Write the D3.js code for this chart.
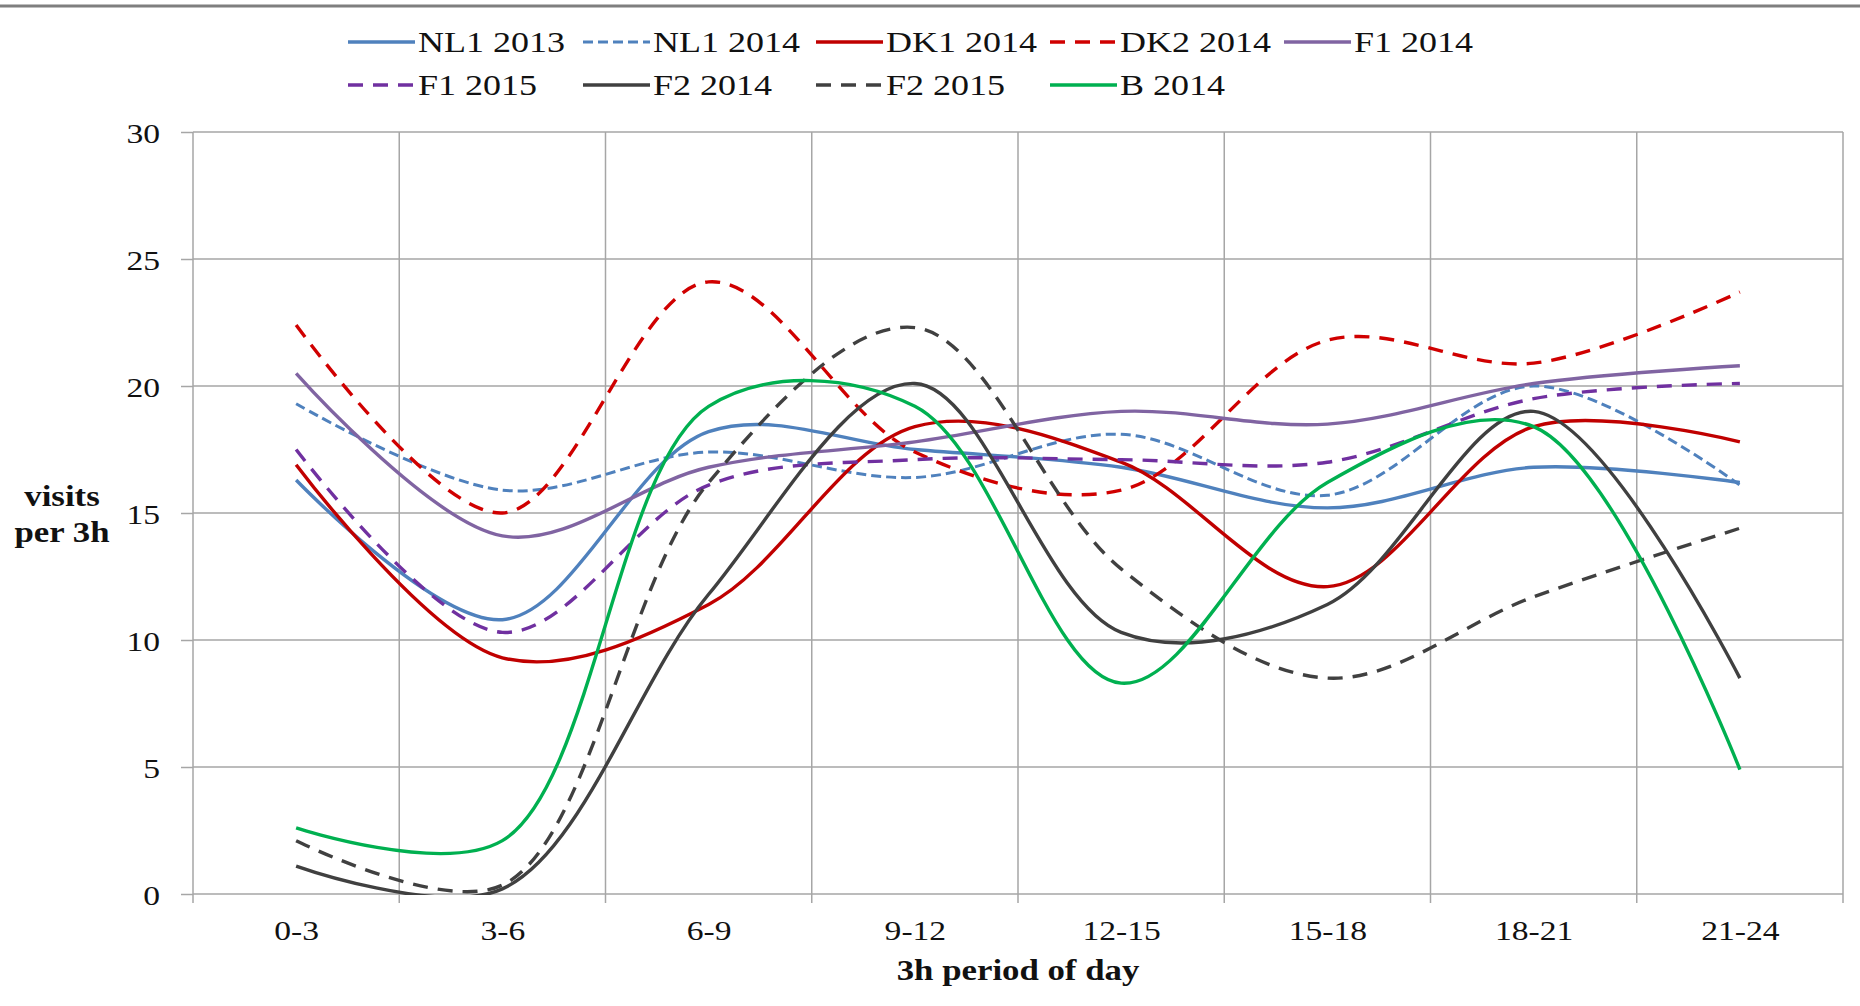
<!DOCTYPE html>
<html>
<head>
<meta charset="utf-8">
<script src="https://cdn.jsdelivr.net/npm/d3@7"></script>
<style>
  body { margin: 0; background: #fff; }
  svg { display: block; font-family: "Liberation Serif", "Times New Roman", serif; }
</style>
</head>
<body>
<div id="chart"></div>
<script>
// data
var periods = ["0-3", "3-6", "6-9", "9-12", "12-15", "15-18", "18-21", "21-24"];
var yTicks = [0, 5, 10, 15, 20, 25, 30];

var seriesNames = ["NL1 2013", "NL1 2014", "DK1 2014", "DK2 2014", "F1 2014",
                   "F1 2015", "F2 2014", "F2 2015", "B 2014"];

var nl1_2013 = [16.3, 10.8, 18.2, 17.5, 16.8, 15.2, 16.8, 16.2];
var nl1_2014 = [19.3, 15.9, 17.4, 16.4, 18.1, 15.7, 20.0, 16.1];
var dk1_2014 = [16.9, 9.3, 11.4, 18.4, 17.0, 12.1, 18.4, 17.8];
var dk2_2014 = [22.4, 15.0, 24.1, 17.4, 15.9, 21.8, 20.9, 23.7];
var f1_2014  = [20.5, 14.1, 16.8, 17.8, 19.0, 18.5, 20.1, 20.8];
var f1_2015  = [17.5, 10.3, 16.1, 17.1, 17.1, 17.0, 19.5, 20.1];
var f2_2014  = [1.1, 0.2, 11.8, 20.1, 10.3, 11.4, 19.0, 8.5];
var f2_2015  = [2.1, 0.35, 16.2, 22.3, 12.8, 8.5, 11.7, 14.4];
var b_2014   = [2.6, 2.1, 19.2, 19.2, 8.3, 16.2, 18.4, 4.9];

var seriesValues = [nl1_2013, nl1_2014, dk1_2014, dk2_2014, f1_2014,
                    f1_2015, f2_2014, f2_2015, b_2014];

var colors = ["#4f81bd", "#4f81bd", "#c00000", "#d00000", "#8064a2",
              "#7030a0", "#404040", "#404040", "#00b050"];
var dashes = [null, "10,5", null, "15,10", null, "15,10", null, "15,10", null];

var W = 1860, H = 1006;
var margin = {top: 132, right: 17, bottom: 112, left: 193};
var SX = 1.2; // the original picture is stretched horizontally

var svg = d3.select("#chart").append("svg")
    .attr("width", W)
    .attr("height", H);

svg.append("rect").attr("width", W).attr("height", H).attr("fill", "#fff");

// top frame line
svg.append("line")
    .attr("x1", 0).attr("x2", W)
    .attr("y1", 6).attr("y2", 6)
    .attr("stroke", "#7f7f7f")
    .attr("stroke-width", 3);

var x = d3.scalePoint()
    .domain(periods)
    .range([margin.left, W - margin.right])
    .padding(0.5);
var step = x.step();

var y = d3.scaleLinear()
    .domain([0, 30])
    .range([H - margin.bottom, margin.top]);

function stretchedText(g, tx, ty, txt, anchor, size, weight) {
    return g.append("text")
        .attr("transform", "translate(" + tx + "," + ty + ") scale(" + SX + ",1)")
        .attr("text-anchor", anchor)
        .attr("font-size", size)
        .attr("font-weight", weight || "normal")
        .attr("fill", "#111")
        .text(txt);
}

// horizontal grid
svg.append("g").selectAll("line")
    .data(yTicks)
    .enter().append("line")
        .attr("x1", margin.left).attr("x2", W - margin.right)
        .attr("y1", d => y(d)).attr("y2", d => y(d))
        .attr("stroke", "#a6a6a6")
        .attr("stroke-width", 1.5);

// vertical grid on period boundaries, reaching below the axis as ticks
var bounds = periods.map(p => x(p) - step / 2).concat([x(periods[periods.length - 1]) + step / 2]);
svg.append("g").selectAll("line")
    .data(bounds)
    .enter().append("line")
        .attr("x1", d => d).attr("x2", d => d)
        .attr("y1", y(30)).attr("y2", y(0) + 9)
        .attr("stroke", "#a6a6a6")
        .attr("stroke-width", 1.5);

// y axis
var yAxis = svg.append("g")
    .attr("transform", "translate(" + margin.left + ",0)")
    .call(d3.axisLeft(y).tickValues(yTicks).tickSize(12));
yAxis.select(".domain").remove();
yAxis.selectAll(".tick line").attr("stroke", "#a6a6a6").attr("stroke-width", 1.5);
yAxis.selectAll(".tick text")
    .attr("x", null).attr("dy", null)
    .attr("transform", "translate(-33,10) scale(" + SX + ",1)")
    .attr("text-anchor", "end")
    .attr("font-family", "Liberation Serif")
    .attr("font-size", 28)
    .attr("fill", "#111");

// x axis labels
var xAxis = svg.append("g")
    .attr("transform", "translate(0," + y(0) + ")")
    .call(d3.axisBottom(x).tickSize(0));
xAxis.select(".domain").remove();
xAxis.selectAll(".tick text")
    .attr("y", null).attr("dy", null)
    .attr("transform", "translate(0,46) scale(" + SX + ",1)")
    .attr("font-family", "Liberation Serif")
    .attr("font-size", 28)
    .attr("fill", "#111");

// axis titles
stretchedText(svg, (margin.left + W - margin.right) / 2, 980, "3h period of day", "middle", 29, "bold");
stretchedText(svg, 62, 506, "visits", "middle", 29, "bold");
stretchedText(svg, 62, 542, "per 3h", "middle", 29, "bold");

// lines
svg.append("clipPath").attr("id", "plotclip")
  .append("rect")
    .attr("x", margin.left).attr("y", margin.top)
    .attr("width", W - margin.left - margin.right)
    .attr("height", y(0) - margin.top + 1);

var line = d3.line()
    .x((d, i) => x(periods[i]))
    .y(d => y(d))
    .curve(d3.curveCatmullRom.alpha(0.5));

svg.append("g")
    .attr("clip-path", "url(#plotclip)")
    .selectAll("path")
    .data(seriesValues)
    .enter().append("path")
        .attr("d", d => line(d))
        .attr("fill", "none")
        .attr("stroke", (d, i) => colors[i])
        .attr("stroke-width", (d, i) => i === 1 ? 3 : 3.4)
        .attr("stroke-dasharray", (d, i) => dashes[i])
        .attr("stroke-linecap", "butt");

// legend
var legendCols = [348, 583, 816, 1050, 1284];
var legendRows = [42, 85];
var legend = svg.append("g");
seriesNames.forEach(function(name, i) {
    var col = legendCols[i % 5];
    var row = legendRows[Math.floor(i / 5)];
    legend.append("line")
        .attr("x1", col).attr("x2", col + 67)
        .attr("y1", row).attr("y2", row)
        .attr("stroke", colors[i])
        .attr("stroke-width", i === 1 ? 3 : 3.4)
        .attr("stroke-dasharray", dashes[i]);
    stretchedText(legend, col + 70, row + 10, name, "start", 30);
});
</script>
</body>
</html>
